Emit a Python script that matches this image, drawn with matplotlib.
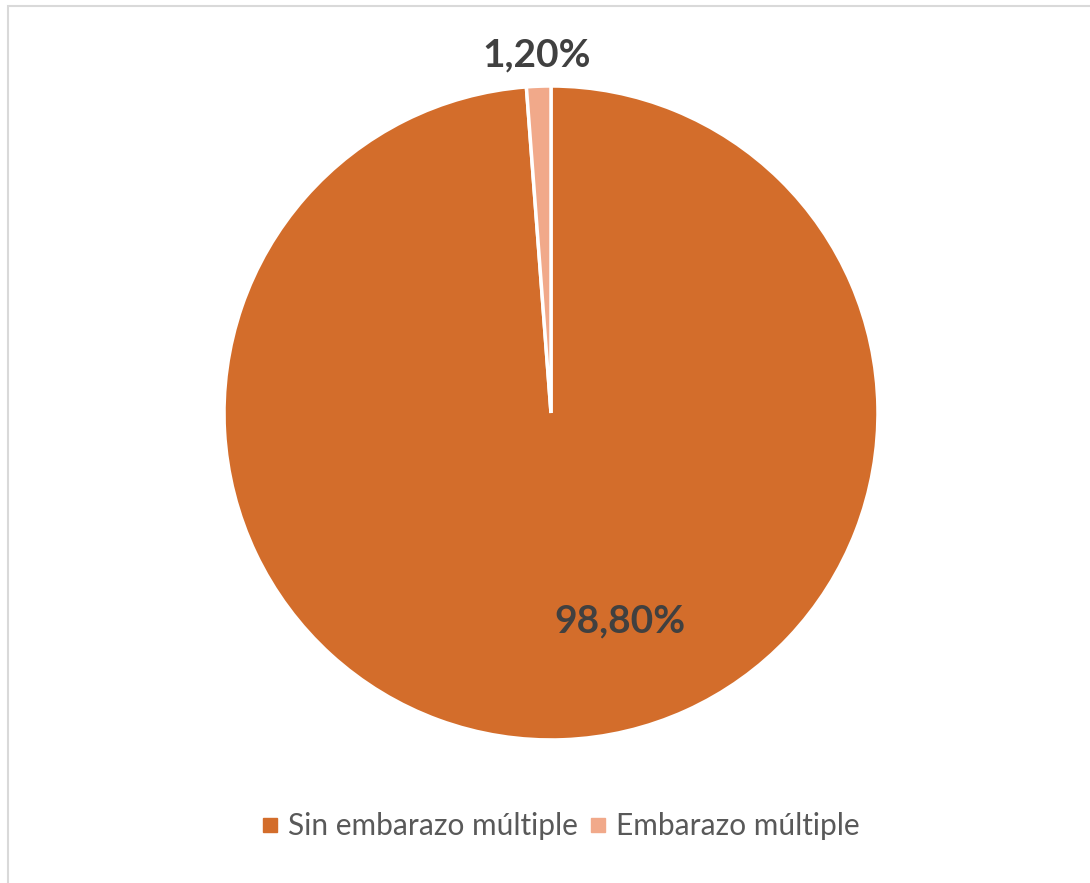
import matplotlib.pyplot as plt
from matplotlib.lines import Line2D
from matplotlib.patches import Rectangle

labels = ['Sin embarazo múltiple', 'Embarazo múltiple']
values = [98.80, 1.20]
value_text = ['98,80%', '1,20%']
colors = ['#D36D2B', '#F1A98A']

plt.rcParams['font.family'] = ['Lato', 'DejaVu Sans']

fig = plt.figure(figsize=(10.9, 8.83), dpi=100)

# light gray chart border (only top/left visible in the crop)
fig.patches.append(Rectangle((8 / 1090, -0.1), 1.2, 1.1 - 6 / 883,
                             transform=fig.transFigure, fill=False,
                             edgecolor='#D9D9D9', linewidth=1.5))

ax = fig.add_axes([0.2055, 0.162, 0.600, 0.7406])
wedges, _ = ax.pie(values, colors=colors, startangle=90, counterclock=False,
                   radius=1, wedgeprops=dict(edgecolor='white', linewidth=2.5))
ax.set_xlim(-1, 1)
ax.set_ylim(-1, 1)
ax.set_aspect('equal')
ax.axis('off')

# data labels
label_pos = [(0.212, -0.637), (-0.043, 1.095)]
for (x, y), t in zip(label_pos, value_text):
    ax.text(x, y, t, ha='center', va='center', fontsize=28,
            fontweight='bold', color='#404040', clip_on=False)

handles = [Line2D([], [], marker='s', linestyle='none', markersize=10,
                  markerfacecolor=c, markeredgecolor=c) for c in colors]
leg = fig.legend(handles, labels, loc='center', bbox_to_anchor=(0.514, 0.0646),
                 ncol=2, frameon=False, fontsize=21.5, handlelength=0.6,
                 handletextpad=0.3, columnspacing=0.4)
for txt in leg.get_texts():
    txt.set_color('#595959')

fig.savefig('out.png', dpi=100, facecolor='white')
